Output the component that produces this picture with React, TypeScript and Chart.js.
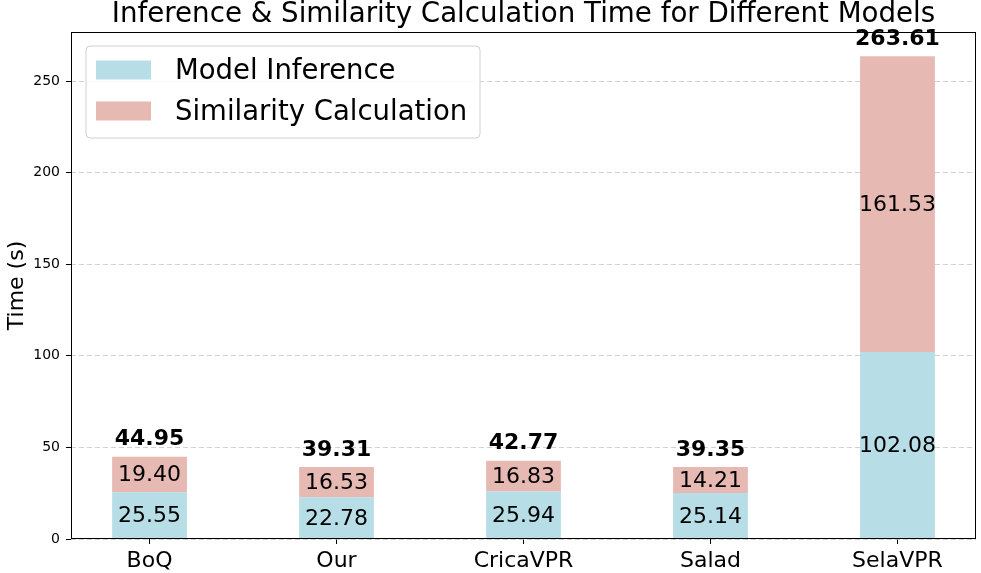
import React, { useEffect, useRef } from "react";
import { Chart, registerables } from "chart.js";

Chart.register(...registerables);

const categories = ["BoQ", "Our", "CricaVPR", "Salad", "SelaVPR"];
const inferenceTimes = [25.55, 22.78, 25.94, 25.14, 102.08];
const similarityTimes = [19.4, 16.53, 16.83, 14.21, 161.53];
const totalTimes = [44.95, 39.31, 42.77, 39.35, 263.61];
const yTicks = [0, 50, 100, 150, 200, 250];
const seriesNames = ["Model Inference", "Similarity Calculation"];
const titleText = "Inference & Similarity Calculation Time for Different Models";
const yTitle = "Time (s)";

const BLUE = "#b7dde7";
const RED = "#e6b9b3";
const FONT = "'DejaVu Sans', sans-serif";

const overlayPlugin = {
  id: "overlay",
  afterDraw(chart: any) {
    const ctx = chart.ctx;
    const area = chart.chartArea;
    const xs = chart.scales.x;
    const ys = chart.scales.y;
    ctx.save();
    // frame
    ctx.strokeStyle = "#000";
    ctx.lineWidth = 1;
    ctx.strokeRect(area.left + 0.5, area.top + 0.5, area.right - area.left - 1, area.bottom - area.top - 1);

    // segment labels
    ctx.fillStyle = "#000";
    ctx.textAlign = "center";
    ctx.textBaseline = "middle";
    ctx.font = `22px ${FONT}`;
    categories.forEach((_, i) => {
      const x = xs.getPixelForValue(i);
      const a = inferenceTimes[i];
      const b = similarityTimes[i];
      ctx.fillText(a.toFixed(2), x, ys.getPixelForValue(a / 2) + 1);
      ctx.fillText(b.toFixed(2), x, ys.getPixelForValue(a + b / 2) + 1);
    });
    ctx.font = `bold 22px ${FONT}`;
    categories.forEach((_, i) => {
      const x = xs.getPixelForValue(i);
      ctx.fillText(totalTimes[i].toFixed(2), x, ys.getPixelForValue(totalTimes[i]) - 17);
    });

    // title
    ctx.font = `27.7px ${FONT}`;
    ctx.fillText(titleText, (area.left + area.right) / 2, 15);

    // y title
    ctx.save();
    ctx.translate(17, (area.top + area.bottom) / 2);
    ctx.rotate(-Math.PI / 2);
    ctx.font = `22px ${FONT}`;
    ctx.fillText(yTitle, 0, 0);
    ctx.restore();

    // legend
    const lx = 86, ly = 46, lw = 394, lh = 92, r = 4;
    ctx.beginPath();
    ctx.moveTo(lx + r, ly);
    ctx.lineTo(lx + lw - r, ly);
    ctx.quadraticCurveTo(lx + lw, ly, lx + lw, ly + r);
    ctx.lineTo(lx + lw, ly + lh - r);
    ctx.quadraticCurveTo(lx + lw, ly + lh, lx + lw - r, ly + lh);
    ctx.lineTo(lx + r, ly + lh);
    ctx.quadraticCurveTo(lx, ly + lh, lx, ly + lh - r);
    ctx.lineTo(lx, ly + r);
    ctx.quadraticCurveTo(lx, ly, lx + r, ly);
    ctx.closePath();
    ctx.fillStyle = "rgba(255,255,255,0.8)";
    ctx.fill();
    ctx.strokeStyle = "#d0d0d0";
    ctx.lineWidth = 1;
    ctx.stroke();

    const colors = [BLUE, RED];
    const rowsY = [70, 111];
    ctx.font = `27.5px ${FONT}`;
    ctx.textAlign = "left";
    seriesNames.forEach((name, i) => {
      ctx.fillStyle = colors[i];
      ctx.fillRect(96, rowsY[i] - 9.5, 55, 19);
      ctx.fillStyle = "#000";
      ctx.fillText(name, 175, rowsY[i] + 2);
    });
    ctx.restore();
  },
};

export default function App() {
  const ref = useRef<HTMLCanvasElement | null>(null);
  useEffect(() => {
    document.body.style.margin = "0";
    if (!ref.current) return;
    const chart = new Chart(ref.current, {
      type: "bar",
      data: {
        datasets: [
          {
            label: seriesNames[0],
            data: inferenceTimes.map((v, i) => ({ x: i, y: v })),
            backgroundColor: BLUE,
            borderWidth: 0,
            barPercentage: 0.4,
            categoryPercentage: 1.0,
          },
          {
            label: seriesNames[1],
            data: similarityTimes.map((v, i) => ({ x: i, y: v })),
            backgroundColor: RED,
            borderWidth: 0,
            barPercentage: 0.4,
            categoryPercentage: 1.0,
          },
        ],
      },
      options: {
        animation: false,
        responsive: true,
        maintainAspectRatio: false,
        devicePixelRatio: 1,
        layout: { padding: { top: 32, right: 5, left: 0, bottom: 0 } },
        plugins: {
          legend: { display: false },
          title: { display: false },
          tooltip: { enabled: false },
        },
        scales: {
          x: {
            type: "linear",
            stacked: true,
            offset: false,
            min: -0.42,
            max: 4.42,
            afterBuildTicks: (scale: any) => {
              scale.ticks = categories.map((_, i) => ({ value: i }));
            },
            afterFit: (scale: any) => {
              scale.height = 34;
            },
            ticks: {
              callback: (v: any) => categories[Math.round(Number(v))] ?? "",
              color: "#000",
              font: { family: FONT, size: 22 },
              padding: 4,
              maxRotation: 0,
              autoSkip: false,
            },
            grid: {
              display: true,
              offset: false,
              drawOnChartArea: false,
              tickLength: 5,
              tickColor: "#000",
            },
            border: { display: false },
          },
          y: {
            stacked: true,
            min: 0,
            max: 276.8,
            afterBuildTicks: (scale: any) => {
              scale.ticks = yTicks.map((v) => ({ value: v }));
            },
            afterFit: (scale: any) => {
              scale.width = 71;
            },
            ticks: {
              color: "#000",
              font: { family: FONT, size: 14 },
              padding: 6,
            },
            grid: {
              color: "rgba(190,190,190,0.7)",
              tickColor: "#000",
              tickLength: 5,
              tickBorderDash: [],
            },
            border: { display: false, dash: [5, 3] },
          },
        },
      },
      plugins: [overlayPlugin],
    } as any);
    return () => chart.destroy();
  }, []);
  return (
    <div style={{ width: 981, height: 573, position: "relative" }}>
      <canvas ref={ref} />
    </div>
  );
}
